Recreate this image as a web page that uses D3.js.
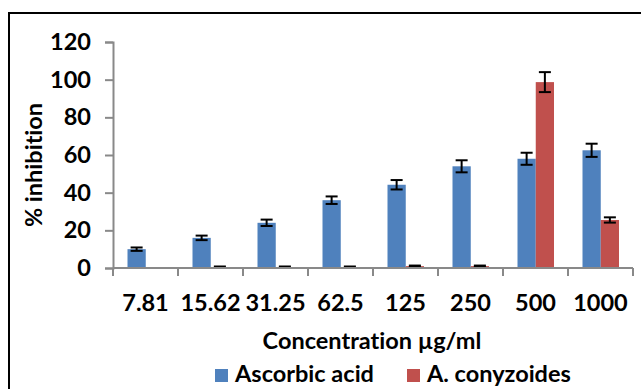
<!DOCTYPE html>
<html>
<head>
<meta charset="utf-8">
<script src="https://cdn.jsdelivr.net/npm/d3@7"></script>
<style>
  body { margin: 0; background: #fff; }
  text { font-family: Lato, "Open Sans", sans-serif; font-weight: bold; fill: #000; font-variant-ligatures: none; }
</style>
</head>
<body>
<div id="chart"></div>
<script>
// concentrations (µg/ml)
const categories = ['7.81', '15.62', '31.25', '62.5', '125', '250', '500', '1000'];
const seriesNames = ['Ascorbic acid', 'A. conyzoides'];
const ascorbic = [10, 16, 24, 36, 44.2, 54, 58, 62.5];
const ascorbicErr = [0.9, 1.2, 1.7, 2, 2.5, 3.2, 3.2, 3.5];
const conyzoides = [0, 0.5, 0.5, 0.5, 1, 1, 98.7, 25.5];
const conyzoidesErr = [0, 0.3, 0.3, 0.3, 0.3, 0.3, 5.3, 1.4];
const yTicks = [0, 20, 40, 60, 80, 100, 120];
const colors = ['#4F81BD', '#C0504D'];

const width = 641, height = 389;
const axisColor = '#898989';
const fontSize = '23.5px';

const svg = d3.select('#chart').append('svg')
    .attr('width', width)
    .attr('height', height);

// outer frame (runs off right and bottom)
svg.append('rect')
    .attr('x', 9).attr('y', 13)
    .attr('width', 800).attr('height', 600)
    .attr('fill', 'none')
    .attr('stroke', '#000')
    .attr('stroke-width', 2);

const x0 = d3.scaleBand()
    .domain(categories)
    .range([113, 633]);

const x1 = d3.scaleBand()
    .domain(seriesNames)
    .range([14.5, x0.bandwidth() - 14]);

const y = d3.scaleLinear()
    .domain([0, 120])
    .range([268, 42]);

const data = categories.map((c, i) => ({
    cat: c,
    vals: [
        { name: seriesNames[0], v: ascorbic[i], e: ascorbicErr[i], color: colors[0] },
        { name: seriesNames[1], v: conyzoides[i], e: conyzoidesErr[i], color: colors[1] }
    ]
}));

// y axis
const yAxis = d3.axisLeft(y)
    .tickValues(yTicks)
    .tickSize(8)
    .tickPadding(14);

const gy = svg.append('g')
    .attr('transform', `translate(${x0.range()[0]},0)`)
    .call(yAxis);
gy.select('.domain').attr('stroke', axisColor).attr('stroke-width', 2);
gy.selectAll('.tick line').attr('stroke', axisColor).attr('stroke-width', 2);
gy.selectAll('.tick text')
    .style('font-size', fontSize)
    .attr('fill', '#000');

// bars
const groups = svg.selectAll('.grp')
    .data(data)
    .enter()
    .append('g')
    .attr('transform', d => `translate(${x0(d.cat)},0)`);

groups.selectAll('rect')
    .data(d => d.vals)
    .enter()
    .append('rect')
    .attr('x', d => x1(d.name))
    .attr('y', d => y(d.v))
    .attr('width', x1.bandwidth())
    .attr('height', d => y(0) - y(d.v))
    .attr('fill', d => d.color);

// error bars
const err = groups.selectAll('.err')
    .data(d => d.vals.filter(v => v.v > 0))
    .enter()
    .append('g')
    .attr('stroke', '#000')
    .attr('stroke-width', 2);

const cx = d => x1(d.name) + x1.bandwidth() / 2;
err.append('line')
    .attr('x1', cx).attr('x2', cx)
    .attr('y1', d => y(d.v + d.e)).attr('y2', d => y(d.v - d.e));
err.append('line')
    .attr('x1', d => cx(d) - 6).attr('x2', d => cx(d) + 6)
    .attr('y1', d => y(d.v + d.e)).attr('y2', d => y(d.v + d.e));
err.append('line')
    .attr('x1', d => cx(d) - 6).attr('x2', d => cx(d) + 6)
    .attr('y1', d => y(d.v - d.e)).attr('y2', d => y(d.v - d.e));

// x axis
const xAxisG = svg.append('g');
xAxisG.append('line')
    .attr('x1', x0.range()[0]).attr('x2', x0.range()[1])
    .attr('y1', y(0)).attr('y2', y(0))
    .attr('stroke', axisColor).attr('stroke-width', 2);

const bounds = categories.map(c => x0(c)).concat([x0.range()[1]]);
xAxisG.selectAll('.xt')
    .data(bounds)
    .enter()
    .append('line')
    .attr('x1', d => d).attr('x2', d => d)
    .attr('y1', y(0)).attr('y2', y(0) + 8)
    .attr('stroke', axisColor).attr('stroke-width', 2);

xAxisG.selectAll('.xl')
    .data(categories)
    .enter()
    .append('text')
    .attr('x', d => x0(d) + x0.bandwidth() / 2)
    .attr('y', 311)
    .attr('text-anchor', 'middle')
    .style('font-size', fontSize)
    .text(d => d);

// axis titles
svg.append('text')
    .attr('transform', 'translate(42,165) rotate(-90)')
    .attr('text-anchor', 'middle')
    .style('font-size', fontSize)
    .text('% inhibition');

svg.append('text')
    .attr('x', 372)
    .attr('y', 349)
    .attr('text-anchor', 'middle')
    .style('font-size', fontSize)
    .text('Concentration µg/ml');

// legend
const legendX = [215, 407];
const legend = svg.selectAll('.leg')
    .data(seriesNames)
    .enter()
    .append('g')
    .attr('transform', (d, i) => `translate(${legendX[i]},369)`);

legend.append('rect')
    .attr('width', 13).attr('height', 13)
    .attr('fill', (d, i) => colors[i]);

legend.append('text')
    .attr('x', 20)
    .attr('y', 13)
    .style('font-size', fontSize)
    .text(d => d);
</script>
</body>
</html>
